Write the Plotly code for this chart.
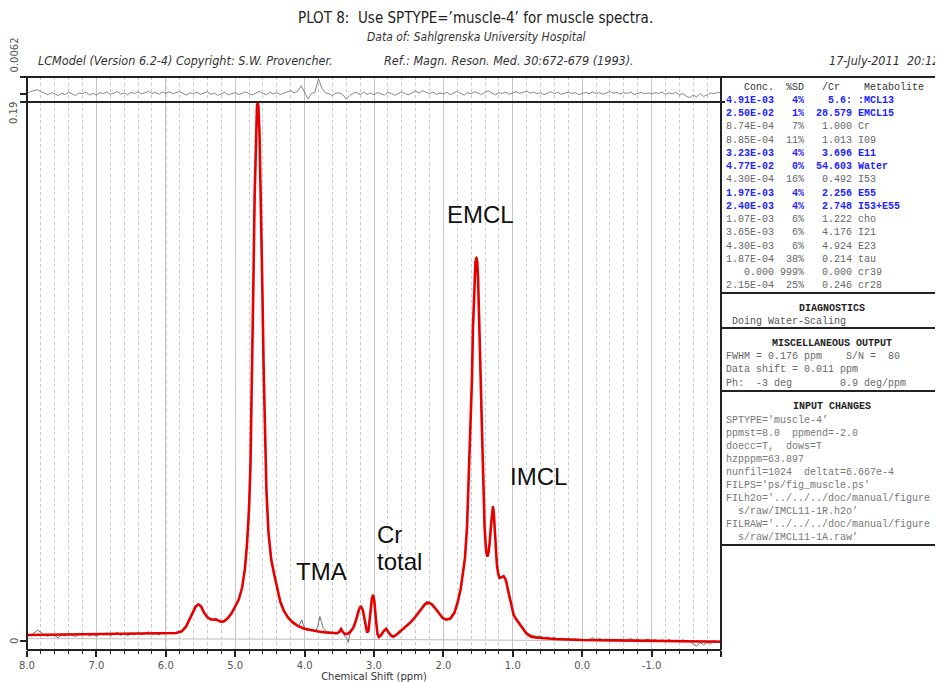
import numpy as np
import plotly.graph_objects as go

# ---------------- data ----------------
ppm_fit = [8.00, 7.60, 7.20, 6.80, 6.40, 6.00, 5.85, 5.77, 5.71, 5.66, 5.61, 5.57, 5.53, 5.49, 5.45,
           5.40, 5.35, 5.31, 5.27, 5.23, 5.19, 5.15, 5.10, 5.05, 5.00, 4.95, 4.90, 4.86, 4.83, 4.80,
           4.78, 4.76, 4.74, 4.72, 4.70, 4.686, 4.676, 4.666, 4.65, 4.63, 4.61, 4.59, 4.57, 4.55, 4.52,
           4.48, 4.43, 4.39, 4.35, 4.30, 4.24, 4.18, 4.10, 4.00, 3.90, 3.80, 3.70, 3.60, 3.53, 3.50,
           3.475, 3.45, 3.42, 3.39, 3.35, 3.30, 3.26, 3.22, 3.19, 3.16, 3.13, 3.10, 3.08, 3.055, 3.03,
           3.013, 2.995, 2.97, 2.95, 2.93, 2.90, 2.86, 2.825, 2.79, 2.755, 2.725, 2.68, 2.62, 2.55, 2.48,
           2.40, 2.33, 2.27, 2.22, 2.17, 2.12, 2.06, 2.01, 1.96, 1.90, 1.84, 1.79, 1.75, 1.72, 1.69,
           1.66, 1.633, 1.607, 1.588, 1.574, 1.552, 1.538, 1.525, 1.512, 1.500, 1.478, 1.463, 1.445, 1.430, 1.406,
           1.385, 1.367, 1.350, 1.334, 1.309, 1.296, 1.286, 1.275, 1.262, 1.245, 1.229, 1.210, 1.190, 1.160, 1.133,
           1.110, 1.094, 1.070, 1.046, 1.015, 0.988, 0.955, 0.927, 0.900, 0.878, 0.840, 0.806, 0.770, 0.734, 0.680,
           0.600, 0.400, 0.200, 0.000, -0.500, -1.000, -1.500, -2.000]
fit = [0.0021, 0.0022, 0.0022, 0.0023, 0.0024, 0.0025, 0.0028, 0.0034, 0.0050, 0.0075, 0.0104, 0.0121, 0.0129, 0.0121, 0.0100,
       0.0083, 0.0076, 0.0075, 0.0075, 0.0070, 0.0067, 0.0071, 0.0082, 0.0098, 0.0120, 0.0145, 0.0188, 0.0255, 0.0340, 0.0470,
       0.0620, 0.0880, 0.1230, 0.1570, 0.1800, 0.1885, 0.1898, 0.1885, 0.1790, 0.1570, 0.1260, 0.0960, 0.0710, 0.0530, 0.0380,
       0.0285, 0.0225, 0.0178, 0.0138, 0.0107, 0.0083, 0.0067, 0.0053, 0.0043, 0.0037, 0.0033, 0.0030, 0.0028, 0.0027, 0.0032,
       0.0042, 0.0032, 0.0025, 0.0024, 0.0030, 0.0045, 0.0072, 0.0108, 0.0123, 0.0108, 0.0068, 0.0030, 0.0035, 0.0090, 0.0150,
       0.0162, 0.0140, 0.0070, 0.0025, 0.0014, 0.0020, 0.0035, 0.0043, 0.0030, 0.0019, 0.0015, 0.0021, 0.0034, 0.0049, 0.0064,
       0.0086, 0.0110, 0.0128, 0.0135, 0.0130, 0.0116, 0.0096, 0.0081, 0.0075, 0.0079, 0.0100, 0.0140, 0.0185, 0.0235, 0.0290,
       0.0398, 0.0574, 0.0750, 0.0927, 0.1103, 0.1275, 0.1335, 0.1352, 0.1335, 0.1275, 0.1103, 0.0927, 0.0750, 0.0574, 0.0398,
       0.0318, 0.0297, 0.0312, 0.0345, 0.0421, 0.0460, 0.0474, 0.0455, 0.0398, 0.0320, 0.0268, 0.0236, 0.0222, 0.0225, 0.0228,
       0.0220, 0.0209, 0.0180, 0.0151, 0.0115, 0.0092, 0.0078, 0.0068, 0.0059, 0.0050, 0.0037, 0.0027, 0.0020, 0.0015, 0.0012,
       0.0010, 0.0007, 0.0005, 0.0003, 0.0002, 0.0001, -0.0001, -0.0003]

ppm_data = [8.00, 7.95, 7.90, 7.85, 7.80, 7.75, 7.70, 7.65, 7.60, 7.55, 7.50, 7.45, 7.40, 7.35, 7.30,
            7.25, 7.20, 7.15, 7.10, 7.05, 7.00, 6.95, 6.90, 6.85, 6.80, 6.75, 6.70, 6.65, 6.60, 6.55,
            6.50, 6.45, 6.40, 6.35, 6.30, 6.25, 6.20, 6.15, 6.10, 6.05, 6.00, 5.95, 5.90, 5.85, 5.80,
            5.77, 5.71, 5.66, 5.61, 5.57, 5.53, 5.49, 5.45, 5.40, 5.35, 5.31, 5.27, 5.23, 5.19, 5.15,
            5.10, 5.05, 5.00, 4.95, 4.90, 4.86, 4.83, 4.80, 4.78, 4.76, 4.74, 4.72, 4.70, 4.686, 4.676,
            4.666, 4.65, 4.63, 4.61, 4.59, 4.57, 4.55, 4.52, 4.48, 4.43, 4.39, 4.35, 4.30, 4.24, 4.18,
            4.15, 4.12, 4.09, 4.06, 4.04, 4.02, 3.99, 3.96, 3.93, 3.90, 3.87, 3.84, 3.81, 3.78, 3.76,
            3.73, 3.70, 3.67, 3.64, 3.61, 3.58, 3.55,
            3.53, 3.50, 3.475, 3.45, 3.42, 3.39, 3.37, 3.35, 3.30, 3.26, 3.22, 3.19, 3.16, 3.13, 3.10,
            3.08, 3.055, 3.03, 3.013, 2.995, 2.97, 2.95, 2.93, 2.90, 2.86, 2.825, 2.79, 2.755, 2.725, 2.68,
            2.62, 2.55, 2.48, 2.40, 2.33, 2.27, 2.24, 2.22, 2.19, 2.17, 2.12, 2.06, 2.01, 1.96, 1.90,
            1.84, 1.79, 1.75, 1.72, 1.69, 1.66, 1.633, 1.607, 1.588, 1.574, 1.552, 1.538, 1.525, 1.512, 1.500,
            1.478, 1.463, 1.445, 1.430, 1.406, 1.385, 1.367, 1.350, 1.334, 1.309, 1.296, 1.286, 1.275, 1.262, 1.245,
            1.229, 1.210, 1.190, 1.160, 1.133, 1.110, 1.094, 1.070, 1.046, 1.015, 0.988, 0.955, 0.927, 0.900, 0.878,
            0.840,
            0.80, 0.75, 0.70, 0.65, 0.60, 0.55, 0.50, 0.45, 0.40, 0.35, 0.30, 0.25, 0.20, 0.15, 0.10,
            0.05, 0.00, -0.05, -0.10, -0.15, -0.20, -0.25, -0.30, -0.35, -0.40, -0.45, -0.50, -0.55, -0.60, -0.65,
            -0.70, -0.75, -0.80, -0.85, -0.90, -0.95, -1.00, -1.05, -1.10, -1.15, -1.20, -1.25, -1.30, -1.35, -1.40,
            -1.45, -1.50, -1.55, -1.60, -1.65, -1.70, -1.75, -1.80, -1.85, -1.90, -1.95, -2.00]
data = [0.0024, 0.0019, 0.0028, 0.0038, 0.0031, 0.0020, 0.0016, 0.0024, 0.0019, 0.0011, 0.0023, 0.0017, 0.0026, 0.0020, 0.0015,
        0.0024, 0.0021, 0.0027, 0.0018, 0.0023, 0.0016, 0.0025, 0.0021, 0.0028, 0.0019, 0.0024, 0.0030, 0.0020, 0.0025, 0.0018,
        0.0027, 0.0022, 0.0029, 0.0021, 0.0026, 0.0032, 0.0023, 0.0028, 0.0021, 0.0030, 0.0026, 0.0031, 0.0024, 0.0030, 0.0032,
        0.0035, 0.0049, 0.0077, 0.0103, 0.0123, 0.0130, 0.0120, 0.0101, 0.0082, 0.0077, 0.0076, 0.0078, 0.0069, 0.0068, 0.0070,
        0.0083, 0.0097, 0.0121, 0.0146, 0.0187, 0.0256, 0.0340, 0.0470, 0.0620, 0.0880, 0.1230, 0.1570, 0.1800, 0.1885, 0.1900,
        0.1885, 0.1790, 0.1570, 0.1260, 0.0960, 0.0710, 0.0530, 0.0381, 0.0286, 0.0226, 0.0180, 0.0140, 0.0108, 0.0085, 0.0068,
        0.0060, 0.0055, 0.0050, 0.0062, 0.0074, 0.0058, 0.0042, 0.0036, 0.0040, 0.0035, 0.0038, 0.0033, 0.0052, 0.0086, 0.0070,
        0.0045, 0.0038, 0.0030, 0.0027, 0.0031, 0.0026, 0.0025,
        0.0028, 0.0034, 0.0045, 0.0030, 0.0016, 0.0008, -0.0005, 0.0022, 0.0047, 0.0071, 0.0110, 0.0125, 0.0107, 0.0070, 0.0028,
        0.0036, 0.0091, 0.0151, 0.0164, 0.0139, 0.0071, 0.0024, 0.0012, 0.0021, 0.0034, 0.0045, 0.0029, 0.0020, 0.0013, 0.0023,
        0.0033, 0.0051, 0.0063, 0.0089, 0.0112, 0.0133, 0.0141, 0.0137, 0.0136, 0.0129, 0.0118, 0.0095, 0.0083, 0.0074, 0.0080,
        0.0101, 0.0141, 0.0186, 0.0236, 0.0291, 0.0399, 0.0575, 0.0751, 0.0928, 0.1104, 0.1276, 0.1337, 0.1356, 0.1336, 0.1276,
        0.1104, 0.0928, 0.0751, 0.0575, 0.0399, 0.0319, 0.0298, 0.0313, 0.0346, 0.0422, 0.0462, 0.0476, 0.0456, 0.0399, 0.0321,
        0.0270, 0.0238, 0.0224, 0.0227, 0.0231, 0.0221, 0.0210, 0.0181, 0.0152, 0.0116, 0.0093, 0.0079, 0.0069, 0.0058, 0.0051,
        0.0038,
        0.0030, 0.0022, 0.0019, 0.0015, 0.0017, 0.0010, 0.0014, 0.0008, 0.0012, 0.0006, 0.0010, 0.0004, 0.0009, 0.0003, 0.0008,
        0.0002, 0.0006, 0.0000, 0.0005, 0.0011, 0.0004, 0.0009, 0.0003, 0.0007, -0.0001, 0.0005, 0.0001, 0.0006, 0.0000, 0.0004,
        0.0008, 0.0002, 0.0006, -0.0001, 0.0003, 0.0007, 0.0001, 0.0005, -0.0002, 0.0004, 0.0000, 0.0005, -0.0001, 0.0003, -0.0002,
        0.0004, -0.0003, 0.0001, -0.0012, -0.0018, -0.0006, -0.0014, -0.0004, -0.0010, 0.0002, -0.0005, -0.0002]

ppm_res = np.linspace(8.0, -2.0, 201)
residual = [0.0002, 0.0009, 0.0012, 0.0016, 0.0008, 0.0004, -0.0003, 0.0005, 0.0001, -0.0006, 0.0003, -0.0002, 0.0006, 0.0000, -0.0005, 0.0004, 0.0001, 0.0007, -0.0003, 0.0002,
            -0.0004, 0.0005, 0.0001, 0.0008, -0.0001, 0.0003, 0.0009, 0.0000, 0.0004, -0.0003, 0.0006, 0.0002, 0.0008, 0.0000, 0.0005, 0.0010, 0.0002, 0.0006, -0.0001, 0.0007,
            0.0003, 0.0008, 0.0001, 0.0006, 0.0009, 0.0002, -0.0004, 0.0005, 0.0000, 0.0007, -0.0002, 0.0004, 0.0008, -0.0001, 0.0003, -0.0005, 0.0002, 0.0006, -0.0003, 0.0001,
            0.0005, -0.0002, 0.0003, 0.0007, 0.0001, -0.0004, 0.0004, 0.0009, 0.0002, -0.0003, 0.0006, 0.0001, 0.0005, -0.0002, 0.0003, 0.0008, 0.0012, 0.0004, 0.0010, 0.0030,
            0.0008, -0.0018, 0.0002, 0.0006, 0.0056, 0.0020, 0.0004, 0.0001, -0.0005, 0.0003, 0.0004, -0.0002, -0.0019, -0.0006, 0.0003, 0.0006, -0.0003, 0.0007, -0.0002, 0.0004,
            -0.0003, 0.0005, 0.0001, -0.0004, 0.0006, 0.0002, -0.0005, 0.0003, 0.0008, 0.0001, -0.0003, 0.0005, 0.0010, 0.0004, 0.0012, 0.0006, 0.0001, 0.0007, -0.0002, 0.0004,
            0.0000, 0.0006, -0.0003, 0.0004, 0.0009, 0.0002, -0.0004, 0.0005, 0.0001, 0.0008, 0.0003, -0.0002, 0.0006, 0.0011, 0.0003, -0.0003, 0.0005, 0.0002, 0.0007, -0.0001,
            0.0004, 0.0008, 0.0002, 0.0006, 0.0010, 0.0003, 0.0007, 0.0001, 0.0005, -0.0002, 0.0004, 0.0008, 0.0001, 0.0006, -0.0001, 0.0003, 0.0007, 0.0002, 0.0005, -0.0002,
            0.0003, 0.0006, 0.0001, 0.0008, 0.0002, 0.0005, -0.0001, 0.0004, 0.0009, 0.0003, 0.0006, 0.0000, 0.0005, 0.0002, 0.0007, -0.0002, 0.0003, 0.0006, 0.0001, 0.0004,
            0.0000, 0.0005, 0.0002, 0.0007, -0.0001, 0.0004, 0.0001, 0.0006, -0.0003, 0.0002, -0.0008, -0.0013, -0.0004, -0.0011, 0.0002, -0.0009, -0.0003, 0.0004, 0.0001, 0.0006,
            0.0003]

ppm_base = [8.0, 6.0, 4.0, 2.0, 1.0, 0.0, -2.0]
baseline = [0.0008, 0.0008, 0.0006, 0.0004, 0.0002, 0.0001, 0.0000]

x_tick_vals = [8, 7, 6, 5, 4, 3, 2, 1, 0, -1, -2]
x_tick_text = ["8.0", "7.0", "6.0", "5.0", "4.0", "3.0", "2.0", "1.0", "0.0", "-1.0", ""]
ppm_marker = 6.0
main_top = 0.19
res_top = 0.0062

peak_labels = ["EMCL", "IMCL", "Cr", "total", "TMA"]

conc = ["4.91E-03", "2.50E-02", "8.74E-04", "8.85E-04", "3.23E-03", "4.77E-02", "4.30E-04", "1.97E-03",
        "2.40E-03", "1.07E-03", "3.65E-03", "4.30E-03", "1.87E-04", "0.000", "2.15E-04"]
sd = ["4%", "1%", "7%", "11%", "4%", "0%", "16%", "4%", "4%", "6%", "6%", "6%", "38%", "999%", "25%"]
ratio = ["5.6:", "28.579", "1.000", "1.013", "3.696", "54.603", "0.492", "2.256", "2.748", "1.222",
         "4.176", "4.924", "0.214", "0.000", "0.246"]
metab = [":MCL13", "EMCL15", "Cr", "I09", "E11", "Water", "I53", "E55", "I53+E55", "cho", "I21", "E23",
         "tau", "cr39", "cr28"]
highlight = [True, True, False, False, True, True, False, True, True, False, False, False, False, False, False]

misc_lines = ["FWHM = 0.176 ppm    S/N =  80", "Data shift = 0.011 ppm", "Ph:  -3 deg        0.9 deg/ppm"]
input_lines = ["SPTYPE='muscle-4\u2019", "ppmst=8.0  ppmend=-2.0", "doecc=T,  dows=T", "hzpppm=63.897",
               "nunfil=1024  deltat=6.667e-4", "FILPS='ps/fig_muscle.ps'",
               "FILh2o='../../../doc/manual/figure", "  s/raw/IMCL11-1R.h2o\u2019",
               "FILRAW='../../../doc/manual/figure", "  s/raw/IMCL11-1A.raw\u2019"]

# ---------------- layout geometry (reference pixels) ----------------
PAGE_W, PAGE_H = 943, 682
BODY = 8                      # default page margin around the plot div
FW, FH = PAGE_W - BODY, PAGE_H - BODY
L, R, T, B = 27, 721, 77, 650  # plot area in page pixels
W, H = R - L, B - T
SPLIT = 102
dom_split = (B - SPLIT) / H


def px(xp):
    return (xp - L) / W


def py(yp):
    return (B - yp) / H


NARROW = "Liberation Sans Narrow, DejaVu Sans Condensed, Arial Narrow, sans-serif"
MONO = "Liberation Mono, Courier New, DejaVu Sans Mono, monospace"
SANS = "DejaVu Sans, Verdana, sans-serif"
ARIAL = "Liberation Sans, Arial, sans-serif"


def nb(s):
    return s.replace(" ", "\u00a0")


fig = go.Figure()
fig.add_trace(go.Scatter(x=ppm_base, y=baseline, mode="lines", line=dict(color="#bdbdbd", width=1),
                         hoverinfo="skip", showlegend=False))
fig.add_trace(go.Scatter(x=ppm_data, y=data, mode="lines", line=dict(color="#606060", width=0.9),
                         showlegend=False))
fig.add_trace(go.Scatter(x=ppm_fit, y=fit, mode="lines", line=dict(color="#e60000", width=2.6),
                         showlegend=False))
fig.add_trace(go.Scatter(x=ppm_res, y=residual, mode="lines", line=dict(color="#7a7a7a", width=0.9),
                         xaxis="x2", yaxis="y2", showlegend=False))

grid_common = dict(
    range=[8, -2], showgrid=True, gridcolor="#c4c4c4", gridwidth=1,
    tickvals=x_tick_vals, zeroline=False, showline=False,
)

fig.update_layout(
    width=FW, height=FH, template="none",
    paper_bgcolor="white", plot_bgcolor="white",
    margin=dict(l=L - BODY, r=PAGE_W - R, t=T - BODY, b=PAGE_H - B, pad=0),
    showlegend=False,
    xaxis=dict(**grid_common, anchor="y", domain=[0, 1], ticktext=x_tick_text, ticks="outside", ticklen=6,
               tickwidth=1.5, tickcolor="#222", tickfont=dict(family=SANS, size=10, color="#555"),
               minor=dict(dtick=0.2, tick0=0, showgrid=True, gridcolor="#c8c8c8", griddash="3px,3px",
                          gridwidth=1, ticks="outside", ticklen=3, tickwidth=1, tickcolor="#222"),
               title=dict(text="Chemical Shift (ppm)", font=dict(family=SANS, size=10, color="#333"), standoff=2),
               automargin=False),
    xaxis2=dict(**grid_common, anchor="y2", domain=[0, 1], matches="x", showticklabels=False, ticks="",
                minor=dict(dtick=0.2, tick0=0, showgrid=True, gridcolor="#c8c8c8", griddash="3px,3px",
                           gridwidth=1, ticks="")),
    yaxis=dict(domain=[0, dom_split], range=[-0.0032, main_top], showgrid=False, zeroline=False,
               tickvals=[0, main_top], showticklabels=False, ticks="outside", ticklen=6, tickwidth=1.5,
               tickcolor="#222", automargin=False),
    yaxis2=dict(domain=[dom_split, 1], range=[-0.00292, res_top], showgrid=False, zeroline=False,
                tickvals=[0, res_top], showticklabels=False, ticks="outside", ticklen=6, tickwidth=1.5,
                tickcolor="#222", automargin=False),
)

shapes = []


def hline(y, x0, x1, w=2):
    shapes.append(dict(type="line", xref="paper", yref="paper", x0=px(x0), x1=px(x1), y0=py(y), y1=py(y),
                       line=dict(color="#222", width=w), layer="above"))


def vline(x, y0, y1, w=2):
    shapes.append(dict(type="line", xref="paper", yref="paper", x0=px(x), x1=px(x), y0=py(y0), y1=py(y1),
                       line=dict(color="#222", width=w), layer="above"))


# white boxes behind the peak labels (hide the grid)
for (x0, x1, y0, y1) in [(417, 543, 190, 248), (500, 588, 453, 502), (362, 448, 509, 591), (283, 360, 547, 596)]:
    shapes.append(dict(type="rect", xref="paper", yref="paper", x0=px(x0), x1=px(x1), y0=py(y1), y1=py(y0),
                       fillcolor="white", line=dict(width=0), layer="between"))

# darker dashed marker line at 6 ppm through both panels
shapes.append(dict(type="line", xref="x", yref="paper", x0=ppm_marker, x1=ppm_marker, y0=0, y1=1,
                   line=dict(color="#7a7a7a", width=1, dash="4px,3px"), layer="between"))

hline(77, 20, 942)
hline(SPLIT, 20, 725)
hline(B, 27, 721)
vline(L, 77, B)
vline(R, 77, B)
vline(942, 77, 545)
for yy in (293, 328, 391, 545):
    hline(yy, R, 942)

fig.update_layout(shapes=shapes)

ann = []


def text(x, y, s, size, family, color="#222", anchor="left", bold=False, italic=False, angle=0):
    if bold:
        s = "<b>" + s + "</b>"
    if italic:
        s = "<i>" + s + "</i>"
    ann.append(dict(xref="paper", yref="paper", x=px(x), y=py(y), text=s, showarrow=False,
                    xanchor=anchor, yanchor="middle", borderpad=0, textangle=angle,
                    font=dict(family=family, size=size, color=color)))


# header
text(475, 18, nb("PLOT 8:  Use SPTYPE=\u2019muscle-4\u2019 for muscle spectra."), 15, NARROW, "#222", "center")
text(476, 37, "Data of: Sahlgrenska University Hospital", 12, NARROW, "#333", "center", italic=True)
text(37, 60, "LCModel (Version 6.2-4) Copyright: S.W. Provencher.", 12.5, NARROW, "#333", "left", italic=True)
text(383, 60, "Ref.: Magn. Reson. Med. 30:672-679 (1993).", 12.5, NARROW, "#333", "left", italic=True)
text(828, 60, nb("17-July-2011  20:12"), 12.5, NARROW, "#333", "left", italic=True)

# y tick labels (rotated)
text(14, 55.5, "0.0062", 10, SANS, "#555", "center", angle=-90)
text(14, 113, "0.19", 10, SANS, "#555", "center", angle=-90)
text(14, 641, "0", 10, SANS, "#555", "center", angle=-90)

# peak labels
text(480.5, 214, peak_labels[0], 24, ARIAL, "#111", "center")
text(538.5, 476.5, peak_labels[1], 24, ARIAL, "#111", "center")
text(376, 534, peak_labels[2], 24, ARIAL, "#111", "left")
text(376, 561, peak_labels[3], 24, ARIAL, "#111", "left")
text(321.5, 571, peak_labels[4], 24, ARIAL, "#111", "center")

# table
TX = 725
text(TX, 87.5, nb("   Conc.  %SD   /Cr    Metabolite"), 10, MONO, "#333")
for i in range(len(conc)):
    row = f"{conc[i]:>8}{sd[i]:>5}{ratio[i]:>8} {metab[i]}"
    yy = 100.3 + 13.26 * i
    if highlight[i]:
        text(TX, yy, nb(row), 10, MONO, "#2323ff", bold=True)
    else:
        text(TX, yy, nb(row), 10, MONO, "#666")

text(832, 308, "DIAGNOSTICS", 10, MONO, "#222", "center", bold=True)
text(TX, 321.5, nb(" Doing Water-Scaling"), 10, MONO, "#555")
text(832, 343, nb("MISCELLANEOUS OUTPUT"), 10, MONO, "#222", "center", bold=True)
for i, s in enumerate(misc_lines):
    text(TX, 356.5 + 13.3 * i, nb(s), 10, MONO, "#666")
text(832, 406, nb("INPUT CHANGES"), 10, MONO, "#222", "center", bold=True)
for i, s in enumerate(input_lines):
    text(TX, 420 + 13.0 * i, nb(s), 10, MONO, "#777")

fig.update_layout(annotations=ann)

fig.write_html("out.html")
